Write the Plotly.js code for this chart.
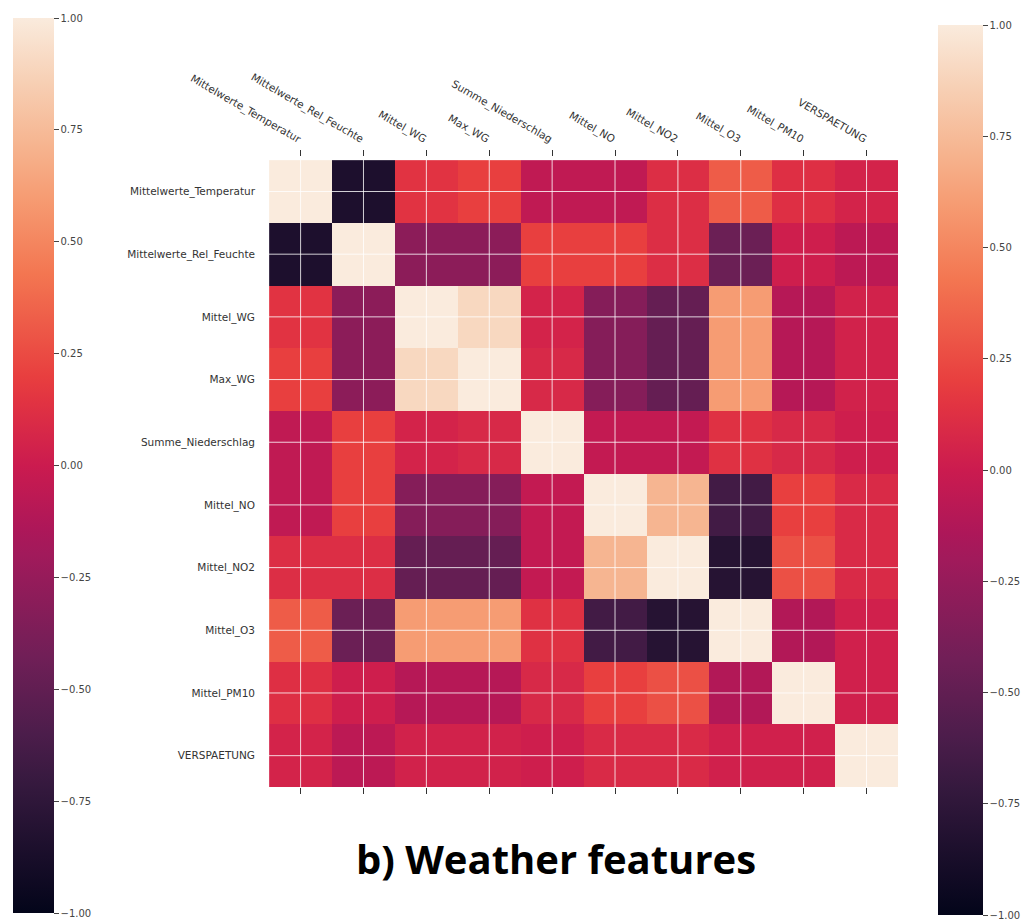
<!DOCTYPE html>
<html>
<head>
<meta charset="utf-8">
<script src="https://cdn.plot.ly/plotly-3.0.1.min.js"></script>
<style>html,body{margin:0;padding:0;background:#fff;}#chart{width:1032px;height:923px;}</style>
</head>
<body>
<div id="chart"></div>
<script>
// Feature names (rows and columns of the correlation matrix)
const features = [
  "Mittelwerte_Temperatur",
  "Mittelwerte_Rel_Feuchte",
  "Mittel_WG",
  "Max_WG",
  "Summe_Niederschlag",
  "Mittel_NO",
  "Mittel_NO2",
  "Mittel_O3",
  "Mittel_PM10",
  "VERSPAETUNG"
];

// Correlation rows
const rowTemperatur   = [ 1.00, -0.85,  0.14,  0.20, -0.05, -0.05,  0.11,  0.32,  0.12,  0.05];
const rowRelFeuchte   = [-0.85,  1.00, -0.30, -0.30,  0.20,  0.20,  0.11, -0.45,  0.02, -0.07];
const rowMittelWG     = [ 0.14, -0.30,  1.00,  0.90,  0.05, -0.33, -0.48,  0.60, -0.10,  0.04];
const rowMaxWG        = [ 0.20, -0.30,  0.90,  1.00,  0.08, -0.33, -0.48,  0.60, -0.10,  0.04];
const rowNiederschlag = [-0.05,  0.20,  0.05,  0.08,  1.00, -0.04, -0.04,  0.13,  0.08,  0.02];
const rowNO           = [-0.05,  0.20, -0.33, -0.33, -0.04,  1.00,  0.72, -0.65,  0.20,  0.09];
const rowNO2          = [ 0.11,  0.11, -0.48, -0.48, -0.04,  0.72,  1.00, -0.80,  0.27,  0.09];
const rowO3           = [ 0.32, -0.45,  0.60,  0.60,  0.13, -0.65, -0.80,  1.00, -0.12,  0.03];
const rowPM10         = [ 0.12,  0.02, -0.10, -0.10,  0.08,  0.20,  0.27, -0.12,  1.00,  0.03];
const rowVerspaetung  = [ 0.05, -0.07,  0.04,  0.04,  0.02,  0.09,  0.09,  0.03,  0.03,  1.00];

const colorbarTicks = [-1.0, -0.75, -0.5, -0.25, 0.0, 0.25, 0.5, 0.75, 1.0];
const titleText = "b) Weather features";

const z = [rowTemperatur, rowRelFeuchte, rowMittelWG, rowMaxWG, rowNiederschlag,
           rowNO, rowNO2, rowO3, rowPM10, rowVerspaetung];

// seaborn "rocket" colormap
const rocket = [
  [0.000, "#03051a"],
  [0.143, "#35193e"],
  [0.200, "#4c1d4b"],
  [0.286, "#701f57"],
  [0.400, "#a11a5b"],
  [0.429, "#ad1759"],
  [0.500, "#cb1b4f"],
  [0.571, "#e13342"],
  [0.600, "#e83f3f"],
  [0.714, "#f37651"],
  [0.800, "#f69c73"],
  [0.857, "#f6b48f"],
  [0.930, "#f7d0b5"],
  [1.000, "#faebdd"]
];

const W = 1032, H = 923;
const cbCommon = {
  xref: "container", yref: "container",
  thicknessmode: "pixels", lenmode: "pixels",
  xanchor: "left", yanchor: "top",
  xpad: 0, ypad: 0,
  outlinewidth: 0,
  ticks: "outside", ticklen: 5, tickwidth: 1, tickcolor: "#444",
  tickvals: colorbarTicks, tickformat: ".2f",
  tickfont: {family: "DejaVu Sans", size: 10, color: "#444"}
};

const heat = {
  type: "heatmap",
  x: features, y: features, z: z,
  zmin: -1, zmax: 1,
  colorscale: rocket,
  showscale: true,
  hoverinfo: "skip",
  colorbar: Object.assign({}, cbCommon, {
    x: 13 / W, y: 1 - 18 / H, thickness: 41, len: 895
  })
};

// invisible helper trace carrying the second (right) colour bar
const rightBar = {
  type: "scatter", mode: "markers",
  x: [features[0]], y: [features[0]],
  hoverinfo: "skip", showlegend: false,
  marker: {
    color: [0], cmin: -1, cmax: 1, colorscale: rocket, opacity: 0, size: 1,
    showscale: true,
    colorbar: Object.assign({}, cbCommon, {
      x: 938 / W, y: 1 - 25 / H, thickness: 45, len: 890
    })
  }
};

// white grid lines through cell centres, drawn above the cells
const shapes = [];
features.forEach(f => {
  shapes.push({type: "line", layer: "above", xref: "x", yref: "y domain",
    x0: f, x1: f, y0: 0, y1: 1, line: {color: "rgba(255,255,255,0.8)", width: 1}});
  shapes.push({type: "line", layer: "above", xref: "x domain", yref: "y",
    x0: 0, x1: 1, y0: f, y1: f, line: {color: "rgba(255,255,255,0.8)", width: 1}});
});

const tickFont = {family: "DejaVu Sans", size: 10.5, color: "#333"};

const layout = {
  width: W, height: H,
  margin: {l: 0, r: 0, t: 0, b: 0, autoexpand: false},
  paper_bgcolor: "#fff", plot_bgcolor: "#fff",
  showlegend: false,
  xaxis: {
    domain: [266 / W, 898 / W],
    side: "top", tickangle: 30,
    ticks: "outside", ticklen: 6, tickwidth: 1, tickcolor: "#333",
    showline: true, linecolor: "rgba(0,0,0,0)", mirror: "ticks",
    showgrid: false, zeroline: false,
    ticklabelstandoff: 2,
    tickfont: tickFont, fixedrange: true
  },
  yaxis: {
    domain: [1 - 787 / H, 1 - 157 / H],
    autorange: "reversed",
    ticks: "", showgrid: false, zeroline: false,
    ticklabelstandoff: 10,
    tickfont: tickFont, fixedrange: true
  },
  shapes: shapes,
  title: {
    text: titleText,
    font: {family: "Open Sans", size: 40, color: "#000", weight: "bold"},
    xref: "container", yref: "container",
    x: 556 / W, xanchor: "center",
    y: 1 - 860 / H, yanchor: "middle"
  }
};

Plotly.newPlot("chart", [heat, rightBar], layout, {displayModeBar: false, staticPlot: true});
</script>
</body>
</html>
